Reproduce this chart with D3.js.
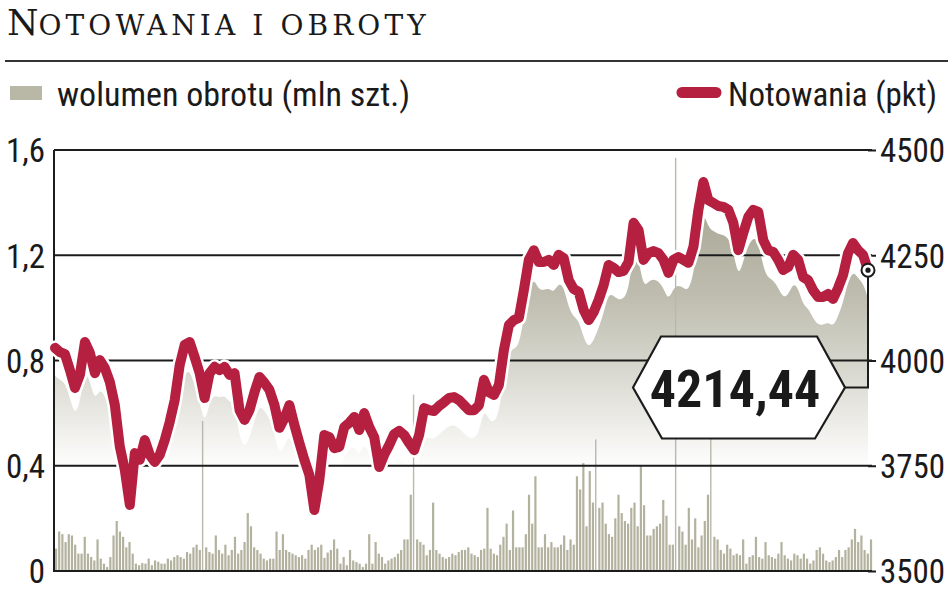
<!DOCTYPE html>
<html><head><meta charset="utf-8">
<script src="https://cdn.jsdelivr.net/npm/d3@7"></script>
<style>
body{margin:0;background:#fff}
svg{display:block}
text{font-family:"Liberation Sans Narrow","Roboto Condensed",Roboto,sans-serif;fill:#1a1a1a}
</style>
</head><body>
<svg id="chart" width="948" height="593"></svg>
<script>
// ---------- DATA ----------
const titleFirst = "N";
const titleRest = "OTOWANIA I OBROTY";
const volumeLabel = "wolumen obrotu (mln szt.)";
const priceLabel = "Notowania (pkt)";
const volumeTicks = [0, 0.4, 0.8, 1.2, 1.6];
const priceTicks = [3500, 3750, 4000, 4250, 4500];

// index closing values (pkt), one reading per step across the period
const prices = [
 4030,4020,4015,3977,3935,3966,4044,4018,3970,4001,
 3982,3949,3894,3795,3740,3657,3780,3764,3811,3776,
 3759,3776,3811,3854,3906,3989,4037,4044,4008,3970,
 3911,3970,3985,3977,3985,3966,3970,3882,3859,3882,
 3925,3961,3947,3930,3894,3840,3863,3894,3847,3804,
 3764,3728,3645,3716,3823,3818,3792,3795,3842,3852,
 3866,3835,3875,3842,3818,3747,3776,3799,3825,3833,
 3823,3804,3787,3823,3887,3882,3880,3892,3901,3911,
 3913,3906,3894,3882,3882,3894,3954,3925,3918,3942,
 4025,4084,4096,4101,4167,4239,4262,4234,4234,4239,
 4227,4251,4243,4191,4170,4163,4120,4096,4115,4144,
 4179,4227,4220,4210,4213,4234,4327,4310,4239,4255,
 4260,4255,4239,4208,4239,4246,4239,4232,4270,4358,
 4424,4381,4374,4367,4365,4358,4327,4262,4303,4341,
 4358,4353,4286,4262,4258,4239,4215,4222,4251,4239,
 4198,4191,4167,4151,4151,4158,4146,4172,4203,4255,
 4279,4262,4251,4214.44
];

// daily turnover volume (mln szt.)
const volumes = [
 0.085,0.15,0.14,0.11,0.14,0.135,0.10,0.066,0.066,0.13,0.066,0.053,0.04,0.12,0.047,0.028,0.015,0.053,0.135,0.19,
 0.15,0.13,0.09,0.11,0.066,0.028,0.022,0.03,0.028,0.047,0.022,0.04,0.035,0.028,0.028,0.047,0.04,0.053,0.06,0.053,
 0.047,0.072,0.066,0.09,0.10,0.08,0.57,0.09,0.072,0.066,0.135,0.08,0.066,0.10,0.06,0.08,0.13,0.066,0.08,0.11,
 0.22,0.17,0.09,0.08,0.066,0.047,0.04,0.047,0.047,0.15,0.08,0.14,0.08,0.072,0.066,0.06,0.053,0.06,0.047,0.08,
 0.10,0.08,0.09,0.10,
 0.05,0.07,0.08,0.12,0.085,0.028,0.053,0.022,0.08,0.04,0.034,0.028,0.015,0.028,0.14,0.028,0.11,0.066,0.053,0.028,
 0.04,0.047,0.053,0.066,0.08,0.12,0.12,0.29,0.67,0.12,0.11,0.10,0.06,0.08,0.26,0.08,0.066,0.053,0.047,0.053,
 0.066,0.06,0.072,0.08,0.08,0.09,0.066,0.06,0.053,0.08,0.085,0.24,0.085,0.066,0.06,0.10,0.13,0.18,0.08,0.23,
 0.09,0.09,0.09,0.14,0.29,0.18,0.36,0.09,0.09,0.14,0.09,0.11,0.09,0.09,0.10,0.135,0.08,0.12,0.10,0.36,
 0.31,0.41,0.17,0.38,0.26,0.50,0.24,0.26,0.18,0.14,0.13,0.20,0.29,0.22,0.19,0.18,0.24,
 0.26,0.17,0.40,0.25,0.135,0.135,0.16,0.17,0.18,0.27,0.21,0.10,0.10,1.57,0.17,0.15,0.10,0.24,0.12,0.2,
 0.09,0.135,0.19,0.29,0.55,0.13,0.12,0.08,0.066,0.10,0.085,0.06,0.066,0.06,0.12,0.028,0.053,0.06,0.13,0.053,
 0.047,0.11,0.06,0.053,0.047,0.066,0.11,0.06,0.047,0.04,0.066,0.06,0.047,0.066,0.047,0.028,0.04,0.08,0.09,0.066,
 0.04,0.034,0.04,0.053,0.08,0.053,0.08,0.09,0.12,0.16,0.11,0.135,0.08,0.066,0.12
];

// ---------- LAYOUT ----------
const svg = d3.select("#chart");
const plotL = 54, plotR = 868, plotT = 150, plotB = 571;
const red = "#b51f40";
const pl = d3.formatLocale({decimal: ",", thousands: "\u00a0", grouping: [3], currency: ["", " zł"]});

const yVol = d3.scaleLinear().domain([0, 1.6]).range([plotB, plotT]);
const yPx = d3.scaleLinear().domain([3500, 4500]).range([plotB, plotT]);
const xP = d3.scaleLinear().domain([0, prices.length - 1]).range([55, 868]);
const xV = d3.scaleLinear().domain([0, volumes.length - 1]).range([56, 871]);

// defs
const defs = svg.append("defs");
const grad = defs.append("linearGradient").attr("id", "areaGrad")
  .attr("gradientUnits", "userSpaceOnUse").attr("x1", 0).attr("x2", 0).attr("y1", 150).attr("y2", 470);
[[0, "#9f9e89"], [0.45, "#bdbcae"], [0.75, "#e0dfd8"], [1, "#ffffff"]].forEach(([o, c]) =>
  grad.append("stop").attr("offset", o).attr("stop-color", c));
defs.append("clipPath").attr("id", "plotClip").append("rect")
  .attr("x", plotL + 1).attr("y", 100).attr("width", plotR - plotL - 1).attr("height", plotB - 100);

// ---------- TITLE ----------
const t = svg.append("text").attr("x", 7).attr("y", 35)
  .style("font-family", "'DejaVu Serif', serif").style("fill", "#1a1a1a");
t.append("tspan").attr("font-size", 36).text(titleFirst);
t.append("tspan").attr("font-size", 28).attr("letter-spacing", 4.1).text(titleRest);
svg.append("line").attr("x1", 5).attr("x2", 948).attr("y1", 61).attr("y2", 61)
  .attr("stroke", "#333").attr("stroke-width", 2);

// ---------- LEGEND ----------
svg.append("rect").attr("x", 10).attr("y", 86).attr("width", 32).attr("height", 14).attr("fill", "#b9b8a6");
svg.append("text").attr("x", 57).attr("y", 106).attr("font-size", 34).text(volumeLabel);
svg.append("line").attr("x1", 682).attr("x2", 716).attr("y1", 92.5).attr("y2", 92.5)
  .attr("stroke", red).attr("stroke-width", 11).attr("stroke-linecap", "round");
svg.append("text").attr("x", 937).attr("y", 106).attr("font-size", 33).attr("text-anchor", "end").text(priceLabel);

// ---------- AREA (shadow under the index line) ----------
const shadow = d3.area().x((d, i) => xP(i)).y0(plotB).y1(d => yPx(d) + 28).curve(d3.curveBasis);
svg.append("path").datum(prices).attr("d", shadow).attr("fill", "url(#areaGrad)")
  .attr("clip-path", "url(#plotClip)");

// ---------- VOLUME BARS ----------
svg.append("g").selectAll("rect").data(volumes).join("rect")
  .attr("x", (d, i) => xV(i) - 1.1).attr("width", d => d > 0.45 ? 1.4 : 2.2)
  .attr("y", d => yVol(d)).attr("height", d => plotB - yVol(d))
  .attr("fill", d => d > 0.45 ? "#b8b8ac" : "#b3b29f");

// ---------- GRID + AXES ----------
const gl = svg.append("g").attr("transform", `translate(${plotL},0)`)
  .call(d3.axisLeft(yVol).tickValues(volumeTicks).tickSize(0).tickPadding(9).tickFormat(pl.format(".1~f")));
gl.select(".domain").remove();
gl.selectAll("text").attr("font-size", 33).style("font-family", null).attr("fill", "#1a1a1a").attr("dy", "0.36em");

const grid = svg.append("g");
grid.selectAll("line").data(volumeTicks).join("line")
  .attr("x1", plotL).attr("x2", plotR + 4).attr("y1", d => yVol(d)).attr("y2", d => yVol(d))
  .attr("stroke", "#1c1c1c").attr("stroke-width", 2);
svg.append("line").attr("x1", plotL).attr("x2", plotL).attr("y1", plotT).attr("y2", plotB + 1)
  .attr("stroke", "#1c1c1c").attr("stroke-width", 2);

const gr = svg.append("g").attr("transform", `translate(${plotR},0)`)
  .call(d3.axisRight(yPx).tickValues(priceTicks).tickSize(8).tickPadding(4).tickFormat(d3.format("d")));
gr.select(".domain").remove();
gr.selectAll("line").attr("stroke", "#1c1c1c").attr("stroke-width", 2);
gr.selectAll("text").attr("font-size", 33).style("font-family", null).attr("fill", "#1a1a1a").attr("dy", "0.36em");

// ---------- INDEX LINE ----------
const line = d3.line().x((d, i) => xP(i)).y(d => yPx(d)).curve(d3.curveLinear);
svg.append("path").datum(prices).attr("d", line).attr("fill", "none")
  .attr("stroke", "#fff").attr("stroke-width", 15).attr("stroke-linejoin", "round").attr("stroke-linecap", "round");
svg.append("path").datum(prices).attr("d", line).attr("fill", "none")
  .attr("stroke", red).attr("stroke-width", 10).attr("stroke-linejoin", "round").attr("stroke-linecap", "round");

// ---------- LAST VALUE CALLOUT ----------
const last = prices[prices.length - 1];
const lx = xP(prices.length - 1), ly = yPx(last);
const boxY = yPx(4000) + 27; // callout centre level
svg.append("path")
  .attr("d", `M${lx},${ly} V${boxY} H${lx - 23}`)
  .attr("fill", "none").attr("stroke", "#1c1c1c").attr("stroke-width", 2);
const bx1 = lx - 235, bx2 = lx - 23, bh = 51;
svg.append("path")
  .attr("d", `M${bx1},${boxY} L${bx1 + 28},${boxY - bh} H${bx2 - 28} L${bx2},${boxY} L${bx2 - 30},${boxY + bh} H${bx1 + 29} Z`)
  .attr("fill", "#fff").attr("stroke", "#1c1c1c").attr("stroke-width", 2.2);
svg.append("text").attr("x", (bx1 + bx2) / 2 - 4).attr("y", boxY + 19).attr("text-anchor", "middle")
  .attr("font-size", 52).attr("font-weight", "bold").text(pl.format(".2f")(last));

svg.append("circle").attr("cx", lx).attr("cy", ly).attr("r", 6.5)
  .attr("fill", "#fff").attr("stroke", "#1c1c1c").attr("stroke-width", 2);
svg.append("circle").attr("cx", lx).attr("cy", ly).attr("r", 2.6).attr("fill", "#1c1c1c");
</script>
</body></html>
